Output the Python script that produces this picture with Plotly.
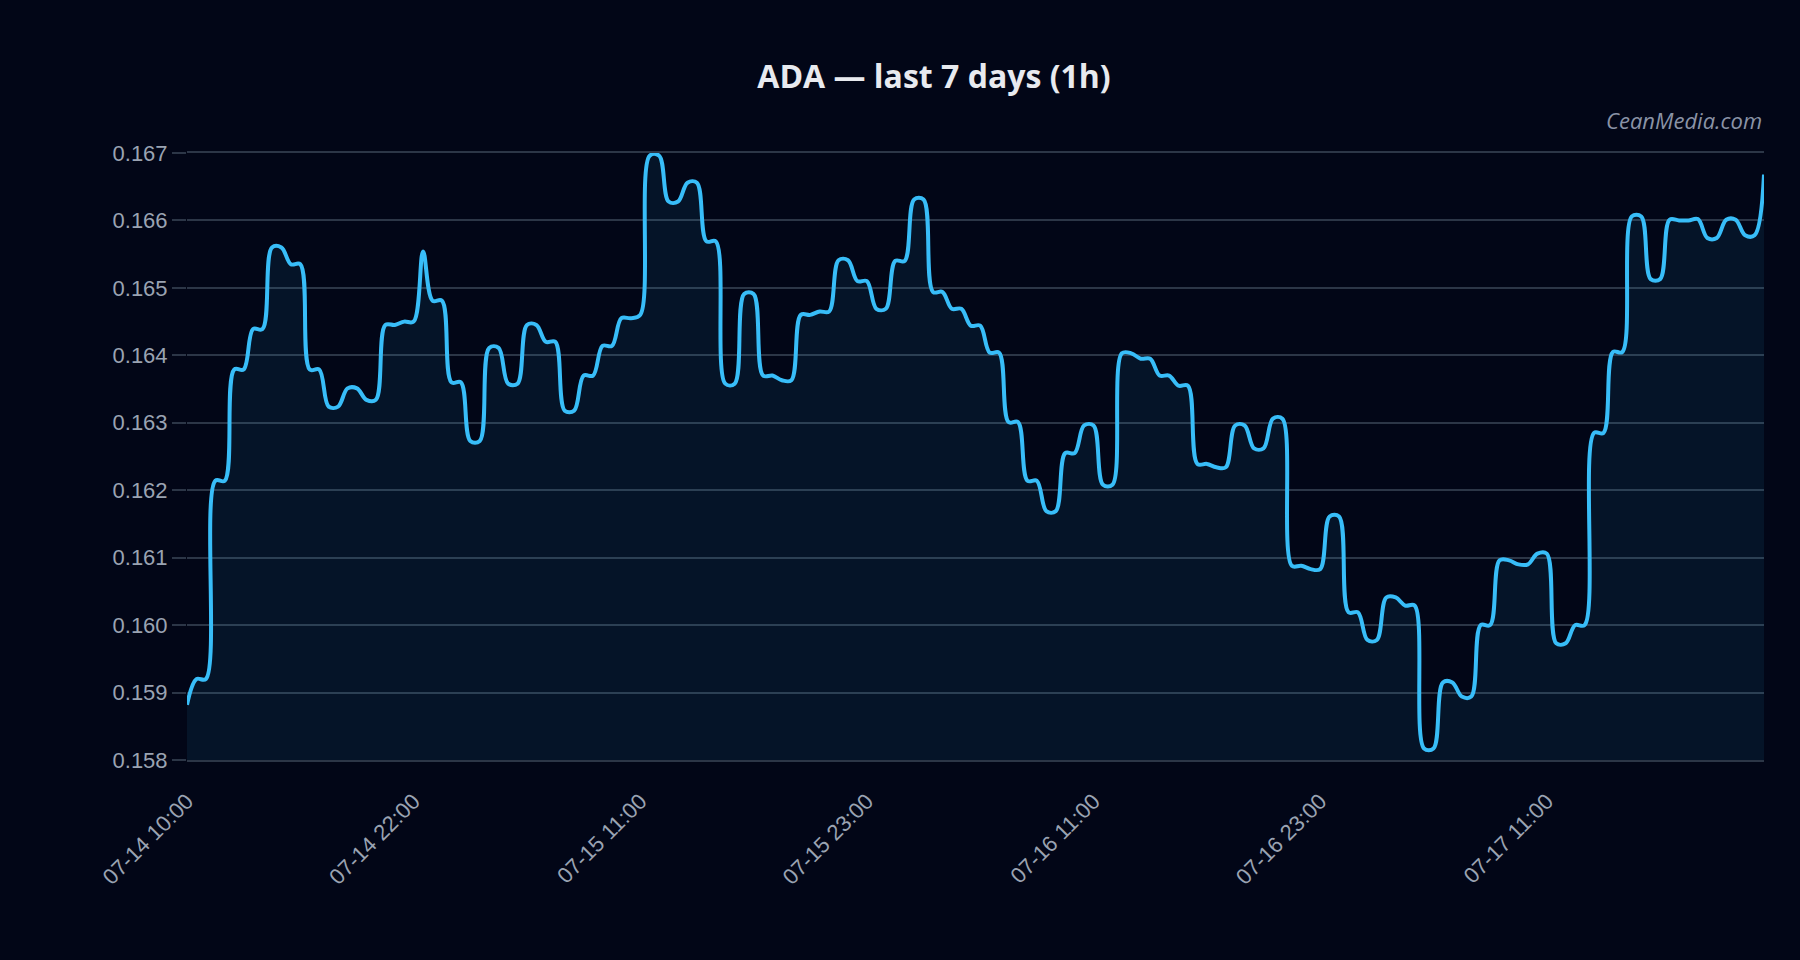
import plotly.graph_objects as go

# ADA price, one value per sample
PRICES = [
    0.15882,
    0.15920, 0.15920,
    0.16214, 0.16214,
    0.16379, 0.16379,
    0.16439, 0.16439,
    0.16560, 0.16560,
    0.16535, 0.16535,
    0.16379, 0.16379,
    0.16324, 0.16324,
    0.16351, 0.16351,
    0.16334, 0.16334,
    0.16445, 0.16445,
    0.16450, 0.16450,
    0.16554,
    0.16481, 0.16481,
    0.16360, 0.16360,
    0.16273, 0.16273,
    0.16411, 0.16411,
    0.16358, 0.16358,
    0.16445, 0.16445,
    0.16420, 0.16420,
    0.16318, 0.16318,
    0.16370, 0.16370,
    0.16414, 0.16414,
    0.16455, 0.16455, 0.16460,
    0.16696, 0.16696,
    0.16628, 0.16628,
    0.16656, 0.16656,
    0.16569, 0.16569,
    0.16358, 0.16358,
    0.16491, 0.16491,
    0.16370, 0.16370,
    0.16363, 0.16363,
    0.16460, 0.16460,
    0.16465, 0.16465,
    0.16541, 0.16541,
    0.16510, 0.16510,
    0.16469, 0.16469,
    0.16540, 0.16540,
    0.16631, 0.16631,
    0.16494, 0.16494,
    0.16469, 0.16469,
    0.16444, 0.16444,
    0.16404, 0.16404,
    0.16301, 0.16301,
    0.16214, 0.16214,
    0.16169, 0.16169,
    0.16255, 0.16255,
    0.16296, 0.16296,
    0.16208, 0.16208,
    0.16403, 0.16403,
    0.16395, 0.16395,
    0.16370, 0.16370,
    0.16355, 0.16355,
    0.16239, 0.16239,
    0.16234, 0.16234,
    0.16296, 0.16296,
    0.16262, 0.16262,
    0.16306, 0.16306,
    0.16088, 0.16088,
    0.16083, 0.16083,
    0.16161, 0.16161,
    0.16019, 0.16019,
    0.15978, 0.15978,
    0.16041, 0.16041,
    0.16029, 0.16029,
    0.15817, 0.15817,
    0.15915, 0.15915,
    0.15894, 0.15894,
    0.16000, 0.16000,
    0.16096, 0.16096,
    0.16090, 0.16090,
    0.16106, 0.16106,
    0.15973, 0.15973,
    0.16000, 0.16000,
    0.16285, 0.16285,
    0.16405, 0.16405,
    0.16606, 0.16606,
    0.16513, 0.16513,
    0.16601, 0.16600, 0.16600, 0.16602,
    0.16574, 0.16574,
    0.16601, 0.16601,
    0.16578, 0.16578,
    0.16668,
]

TICK_LABELS = ["07-14 10:00", "07-14 22:00", "07-15 11:00", "07-15 23:00",
               "07-16 11:00", "07-16 23:00", "07-17 11:00"]
TICK_EVERY = 24

Y_MIN, Y_MAX, Y_STEP = 0.158, 0.167, 0.001

TITLE = "ADA — last 7 days (1h)"
WATERMARK = "CeanMedia.com"

BG = "#020617"
GRID = "#2c3647"
LINE = "#38bdf8"
TICK_COLOR = "#9aa3b2"

x = list(range(len(PRICES)))
tickvals = x[::TICK_EVERY][:len(TICK_LABELS)]

fig = go.Figure()
fig.add_trace(go.Scatter(
    x=x, y=PRICES, mode="lines",
    line=dict(color=LINE, width=4, shape="spline", smoothing=1),
    fill="tozeroy", fillcolor="rgba(56,189,248,0.08)",
    hoverinfo="skip", showlegend=False,
))

fig.update_layout(
    width=1800, height=960,
    paper_bgcolor=BG, plot_bgcolor=BG,
    margin=dict(l=187, r=36, t=153, b=200),
    title=dict(text=TITLE, x=934 / 1800, xref="container", xanchor="center",
               y=1 - 77 / 960, yref="container", yanchor="middle",
               font=dict(family="Open Sans", size=32, color="#e8eaef", weight="bold")),
    xaxis=dict(range=[0, len(PRICES) - 1], tickmode="array", tickvals=tickvals,
               ticktext=TICK_LABELS, tickangle=-45, showgrid=False, zeroline=False,
               showline=True, mirror=True, linecolor=GRID, linewidth=1.5,
               ticks="", ticklabelstandoff=18,
               tickfont=dict(family="Liberation Sans, Arial", size=22, color=TICK_COLOR)),
    yaxis=dict(range=[Y_MIN, Y_MAX], dtick=Y_STEP, tick0=Y_MIN,
               tickformat=".3f",
               showgrid=True, gridcolor=GRID, gridwidth=1.5, zeroline=False,
               showline=False, ticks="outside", ticklen=14, tickcolor=GRID,
               tickwidth=1.5,
               tickfont=dict(family="Liberation Sans, Arial", size=22, color=TICK_COLOR)),
    annotations=[dict(text=WATERMARK, xref="paper", yref="paper", x=1, y=1.055,
                      xanchor="right", yanchor="middle", showarrow=False,
                      font=dict(family="Open Sans", size=22, color="#8a93a6",
                                style="italic"))],
)

fig.write_html("out.html")
